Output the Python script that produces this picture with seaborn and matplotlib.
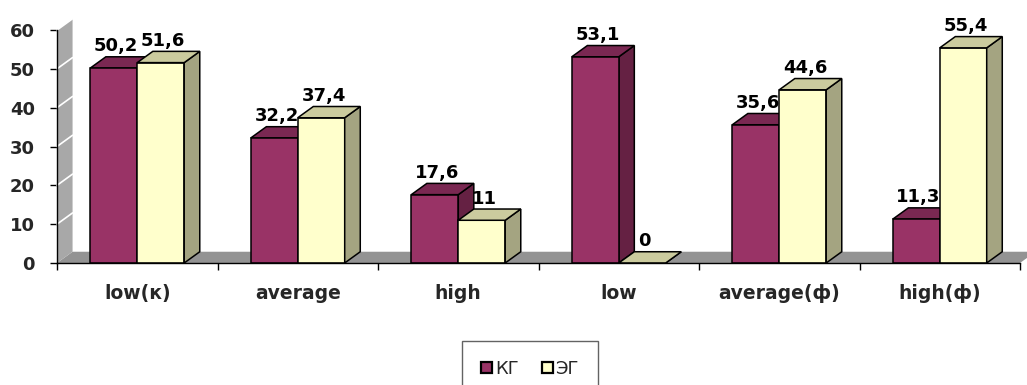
import matplotlib
matplotlib.use("Agg")
import matplotlib.pyplot as plt
from matplotlib.patches import Polygon, Patch
import seaborn as sns
import pandas as pd

# Data
categories = ["low(к)", "average", "high", "low", "average(ф)", "high(ф)"]
groups = ["КГ", "ЭГ"]
kg_values = [50.2, 32.2, 17.6, 53.1, 35.6, 11.3]
eg_values = [51.6, 37.4, 11, 0, 44.6, 55.4]
y_ticks = [0, 10, 20, 30, 40, 50, 60]

# Colours: front, top, side faces of each series
front = {"КГ": "#993366", "ЭГ": "#ffffcc"}
top = {"КГ": "#7a2852", "ЭГ": "#cbcb9e"}
side = {"КГ": "#652143", "ЭГ": "#a4a481"}
wall_color = "#a8a8a8"
floor_color = "#939393"

sns.set_theme(style="white")
plt.rcParams["font.family"] = ["DejaVu Sans"]

df = pd.DataFrame({
    "category": categories * 2,
    "group": [groups[0]] * len(categories) + [groups[1]] * len(categories),
    "value": kg_values + eg_values,
})

fig = plt.figure(figsize=(10.27, 3.85), dpi=100)
ax = fig.add_axes([57 / 1027, 122 / 385, 963 / 1027, 233 / 385])

sns.barplot(data=df, x="category", y="value", hue="group", order=categories,
            hue_order=groups, palette=front, saturation=1, width=0.585, gap=0,
            edgecolor="black", linewidth=1.1, legend=False, ax=ax, zorder=3)

ax.set_xlim(-0.5, 5.5)
ax.set_ylim(0, 60)

# depth of the pseudo-3D extrusion (data units)
dx, dy = 0.097, 2.9

# floor and left wall
floor = Polygon([(-0.5, 0), (5.5, 0), (5.5 + dx, dy), (-0.5 + dx, dy)],
                closed=True, facecolor=floor_color, edgecolor="none",
                zorder=0.5, clip_on=False)
ax.add_patch(floor)
wall = Polygon([(-0.5, 0), (-0.5 + dx, dy), (-0.5 + dx, 60 + dy), (-0.5, 60)],
               closed=True, facecolor=wall_color, edgecolor="none",
               zorder=0.6, clip_on=False)
ax.add_patch(wall)
for v in y_ticks[1:]:
    ax.plot([-0.5, -0.5 + dx], [v, v + dy], color="white", lw=1.2,
            zorder=0.7, clip_on=False)

# top and side faces of each bar, plus value labels
bars = [b for b in ax.patches if b not in (floor, wall)]
n = len(categories)
for idx, bar in enumerate(bars[:2 * n]):
    g = groups[idx // n]
    x0 = bar.get_x()
    w = bar.get_width()
    h = bar.get_height()
    z = 2 if g == "КГ" else 3.2
    top_face = Polygon([(x0, h), (x0 + w, h), (x0 + w + dx, h + dy), (x0 + dx, h + dy)],
                       closed=True, facecolor=top[g], edgecolor="black",
                       linewidth=1.1, zorder=z, clip_on=False)
    side_face = Polygon([(x0 + w, 0), (x0 + w + dx, dy), (x0 + w + dx, h + dy), (x0 + w, h)],
                        closed=True, facecolor=side[g], edgecolor="black",
                        linewidth=1.1, zorder=z, clip_on=False)
    ax.add_patch(side_face)
    ax.add_patch(top_face)
    label = f"{h:g}".replace(".", ",")
    ax.text(x0 + w / 2 + dx * 0.15, h + dy + 1.4, label, ha="center", va="baseline",
            fontsize=13, fontweight="bold", color="black", zorder=5, clip_on=False)

# axes styling
for s in ["top", "right"]:
    ax.spines[s].set_visible(False)
ax.spines["left"].set_color("black")
ax.spines["bottom"].set_color("black")
ax.spines["left"].set_linewidth(1)
ax.spines["bottom"].set_linewidth(1)
ax.spines["left"].set_zorder(4)
ax.spines["bottom"].set_zorder(4)

ax.set_yticks(y_ticks)
ax.set_yticklabels([str(v) for v in y_ticks], fontsize=13, fontweight="bold")
ax.tick_params(axis="y", direction="out", length=5, width=1, color="black", pad=11, left=True)

ax.set_xticks(range(n))
ax.set_xticklabels(categories, fontsize=13.5, fontweight="bold")
ax.set_xticks([i - 0.5 for i in range(n + 1)], minor=True)
ax.tick_params(axis="x", which="major", length=0, pad=15)
ax.tick_params(axis="x", which="minor", direction="out", length=5, width=1,
               color="black", bottom=True)
ax.set_xlabel("")
ax.set_ylabel("")
ax.grid(False)

handles = [Patch(facecolor=front[g], edgecolor="black", linewidth=1.6) for g in groups]
leg = fig.legend(handles=handles, labels=groups, loc="center",
                 bbox_to_anchor=(530 / 1027, 1 - 369 / 385), ncol=2,
                 frameon=True, fancybox=False, fontsize=13,
                 handlelength=0.6, handleheight=0.6, handletextpad=0.15,
                 columnspacing=1.3, borderpad=1.05)
leg.get_frame().set_edgecolor("#3c3c3c")
leg.get_frame().set_linewidth(1)

fig.savefig("out.png", dpi=100)
